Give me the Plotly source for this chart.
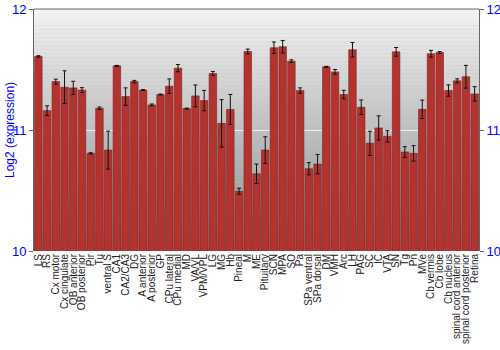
import plotly.graph_objects as go

categories = ["LS", "RS", "Cx motor", "Cx cingulate", "OB anterior", "OB posterior", "Pir", "Tu",
              "ventral S", "CA1", "CA2/CA3", "DG", "A anterior", "A posterior", "GP", "CPu lateral",
              "CPu medial", "MD", "VA/VL", "VPM/VPL", "LG", "MG", "Hb", "Pineal", "M", "ME",
              "Pituitary", "SCN", "MPA", "SO", "Pa", "SPa ventral", "SPa dorsal", "DM", "VMH", "Arc",
              "LH", "PAG", "SC", "IC", "VTA", "SN", "Tg", "Pn", "MVe", "Cb vermis", "Cb lobe",
              "Cb nucleus", "spinal cord anterior", "spinal cord posterior", "Retina"]

values = [11.608, 11.16, 11.40, 11.354, 11.348, 11.33, 10.807, 11.18,
          10.834, 11.53, 11.276, 11.40, 11.33, 11.207, 11.293, 11.362,
          11.511, 11.177, 11.282, 11.243, 11.467, 11.055, 11.17, 10.494, 11.649, 10.638,
          10.834, 11.68, 11.688, 11.569, 11.326, 10.68, 10.718, 11.522, 11.48, 11.293,
          11.663, 11.188, 10.89, 11.017, 10.948, 11.646, 10.818, 10.807, 11.171, 11.63, 11.64,
          11.326, 11.406, 11.44, 11.298]

errors = [0.006, 0.04, 0.02, 0.135, 0.055, 0.02, 0.005, 0.01,
          0.157, 0.004, 0.072, 0.01, 0.004, 0.008, 0.004, 0.06,
          0.03, 0.004, 0.09, 0.084, 0.017, 0.196, 0.124, 0.025, 0.02, 0.08,
          0.11, 0.047, 0.052, 0.011, 0.022, 0.05, 0.08, 0.004, 0.02, 0.035,
          0.06, 0.06, 0.1, 0.1, 0.047, 0.036, 0.044, 0.064, 0.076, 0.028, 0.008,
          0.047, 0.017, 0.094, 0.06]

y_ticks = [10, 11, 12]

fig = go.Figure()

fig.add_trace(go.Bar(
    x=categories, y=values,
    marker=dict(color="#b5332f", line=dict(color="#7d1c1c", width=0.6)),
    error_y=dict(type="data", array=errors, color="#111111", thickness=1, width=2),
    hoverinfo="x+y",
))
# invisible companion trace so the right-hand axis is drawn
fig.add_trace(go.Scatter(
    x=categories, y=values, yaxis="y2", mode="markers",
    marker=dict(opacity=0, size=1), hoverinfo="skip",
))

# vertical gradient background
shapes = []
n = 60
top = (242, 242, 242)
bot = (140, 140, 140)
for i in range(n):
    t = i / (n - 1)
    c = tuple(int(round(top[k] + (bot[k] - top[k]) * t)) for k in range(3))
    shapes.append(dict(type="rect", xref="paper", yref="paper",
                       x0=0, x1=1, y0=1 - (i + 1) / n, y1=1 - i / n,
                       fillcolor="rgb(%d,%d,%d)" % c, line=dict(width=0), layer="below"))
shapes.append(dict(type="line", xref="paper", yref="paper", x0=0, x1=1, y0=1, y1=1,
                   line=dict(color="#666666", width=1)))

axis_common = dict(
    range=[10, 12], tickvals=y_ticks, ticktext=[str(v) for v in y_ticks],
    tickfont=dict(size=13, color="#0000ff"),
    showline=True, linecolor="#666666", ticks="outside", ticklen=4,
    tickcolor="#666666", zeroline=False, automargin=False,
)

fig.update_layout(
    width=500, height=350,
    margin=dict(l=34, r=21, t=9, b=99),
    paper_bgcolor="white", plot_bgcolor="#c0c0c0",
    showlegend=False,
    bargap=0.14,
    shapes=shapes,
    font=dict(family="Liberation Sans, Arial, sans-serif"),
    annotations=[dict(text="Log2 (expression)", xref="paper", yref="paper", x=0, y=0.5,
                      xanchor="center", yanchor="middle",
                      xshift=-24, textangle=-90, showarrow=False,
                      font=dict(size=12, color="#0000ff"))],
    xaxis=dict(
        type="category", range=[-0.5, len(categories) - 0.5],
        tickmode="array", tickvals=categories, ticktext=categories,
        tickangle=-90, tickfont=dict(size=10, color="#222222"),
        showgrid=False, showline=False, ticks="", automargin=False,
    ),
    yaxis=dict(showgrid=True, gridcolor="#eeeeee", gridwidth=1, **axis_common),
    yaxis2=dict(overlaying="y", side="right", showgrid=False, **axis_common),
)

fig.write_html("out.html")
